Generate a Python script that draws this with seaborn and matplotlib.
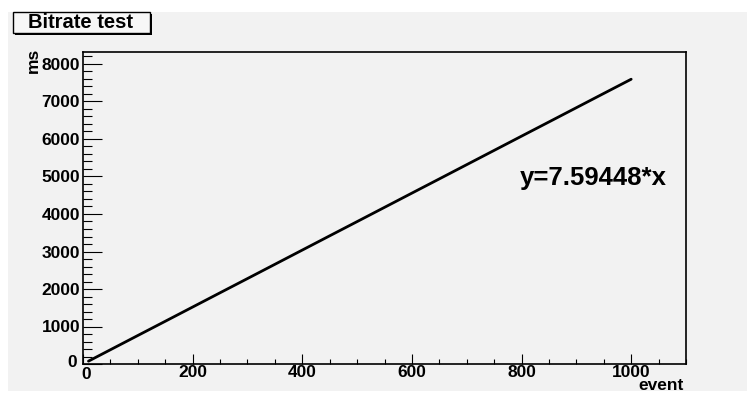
import matplotlib
matplotlib.use("Agg")
import matplotlib.pyplot as plt
import matplotlib.transforms as mtransforms
from matplotlib.patches import Rectangle
from matplotlib.ticker import MultipleLocator
import seaborn as sns
import pandas as pd

# Cumulative processing time (ms) versus event number
events = [10, 50, 100, 150, 200, 250, 300, 350, 400, 450, 500,
          550, 600, 650, 700, 750, 800, 850, 900, 950, 1000]
time_ms = [76, 380, 760, 1139, 1519, 1899, 2278, 2658, 3038, 3418, 3797,
           4177, 4557, 4936, 5316, 5696, 6076, 6455, 6835, 7215, 7594]
title = "Bitrate test"
fit_label = "y=7.59448*x"
x_title = "event"
y_title = "ms"

df = pd.DataFrame({"event": events, "ms": time_ms})

sns.set_theme(style="white")
plt.rcParams["font.family"] = ["Liberation Sans", "DejaVu Sans"]
plt.rcParams["font.weight"] = "bold"

W, H = 747, 394
fig = plt.figure(figsize=(W / 100, H / 100), dpi=100, facecolor="white")

# grey canvas pad
fig.add_artist(Rectangle((8 / W, 1 - 391 / H), (W - 8) / W, (391 - 12) / H,
                         transform=fig.transFigure, facecolor="#f2f2f2",
                         edgecolor="none", zorder=0))

left, right, top, bottom = 83, 686, 52, 364
ax = fig.add_axes([left / W, 1 - bottom / H, (right - left) / W, (bottom - top) / H])
ax.set_facecolor("#f2f2f2")

sns.lineplot(data=df, x="event", y="ms", ax=ax, color="black", linewidth=2.0)

ax.set_xlim(0, 1100)
ax.set_ylim(0, 8320)
ax.xaxis.set_major_locator(MultipleLocator(200))
ax.xaxis.set_minor_locator(MultipleLocator(50))
ax.yaxis.set_major_locator(MultipleLocator(1000))
ax.yaxis.set_minor_locator(MultipleLocator(200))

for s in ax.spines.values():
    s.set_color("black")
    s.set_linewidth(1.2)

ax.tick_params(axis="both", which="both", direction="in", colors="black",
               labelsize=12.5, left=True, bottom=True, top=False, right=False)
ax.tick_params(axis="y", which="major", length=13.5, width=0.8, pad=2)
ax.tick_params(axis="y", which="minor", length=6.5, width=0.8)
ax.tick_params(axis="x", which="major", length=7, width=0.8, pad=1)
ax.tick_params(axis="x", which="minor", length=3.5, width=0.8)

fig.canvas.draw()
for lbl in ax.get_xticklabels() + ax.get_yticklabels():
    lbl.set_fontweight("bold")

# ROOT-style corner zeros: nudge them apart so they sit side by side
ylab0 = [t for t in ax.get_yticklabels() if t.get_text() == "0"]
xlab0 = [t for t in ax.get_xticklabels() if t.get_text() == "0"]
if ylab0:
    ylab0[0].set_transform(ylab0[0].get_transform() +
                           mtransforms.ScaledTranslation(-3 / 100, 3 / 100, fig.dpi_scale_trans))
if xlab0:
    xlab0[0].set_transform(xlab0[0].get_transform() +
                           mtransforms.ScaledTranslation(3 / 100, -2 / 100, fig.dpi_scale_trans))

ax.set_xlabel("")
ax.set_ylabel("")

# axis titles at the ends of the axes
fig.text(684 / W, 1 - 386 / H, x_title, ha="right", va="center",
         fontsize=12.5, fontweight="bold", color="black")
fig.text(33 / W, 1 - 60 / H, y_title, ha="center", va="center", rotation=90,
         fontsize=12.5, fontweight="bold", color="black")

# fit annotation
ax.text(930, 4960, fit_label, ha="center", va="center",
        fontsize=18.5, fontweight="bold", color="black")

# title box with shadow
bx0, by0, bx1, by1 = 13, 12, 150, 33
fig.add_artist(Rectangle(((bx0 + 2) / W, 1 - (by1 + 2) / H), (bx1 - bx0) / W,
                         (by1 - by0) / H, transform=fig.transFigure,
                         facecolor="black", edgecolor="none", zorder=2))
fig.add_artist(Rectangle((bx0 / W, 1 - by1 / H), (bx1 - bx0) / W,
                         (by1 - by0) / H, transform=fig.transFigure,
                         facecolor="#f7f7f7", edgecolor="black", linewidth=1,
                         zorder=3))
fig.text(80 / W, 1 - 23 / H, title, ha="center", va="center",
         fontsize=14.5, fontweight="bold", color="black", zorder=4)

fig.savefig("out.png", dpi=100, facecolor=fig.get_facecolor())
